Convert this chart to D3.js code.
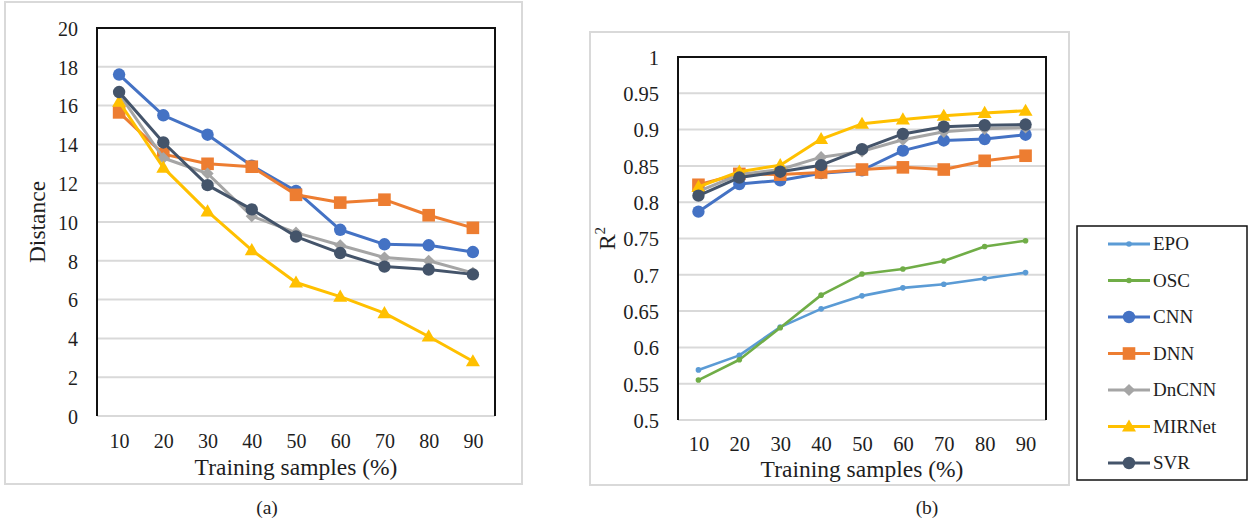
<!DOCTYPE html>
<html>
<head>
<meta charset="utf-8">
<script src="https://cdn.jsdelivr.net/npm/d3@7"></script>
<style>
  html, body { margin: 0; padding: 0; background: #fff; }
  svg { display: block; font-family: "Liberation Serif", "Times New Roman", serif; }
</style>
</head>
<body>
<svg id="chart" width="1251" height="524"></svg>
<script>
// Training sample percentages shared by both panels
const samples = [10, 20, 30, 40, 50, 60, 70, 80, 90];

// Panel (a): distance per method
const distCNN    = [17.6, 15.5, 14.5, 12.9, 11.6, 9.6, 8.85, 8.8, 8.45];
const distDNN    = [15.65, 13.5, 13.0, 12.85, 11.4, 11.0, 11.15, 10.35, 9.7];
const distDnCNN  = [16.6, 13.3, 12.5, 10.3, 9.45, 8.8, 8.17, 8.0, 7.38];
const distMIRNet = [16.2, 12.8, 10.55, 8.55, 6.88, 6.15, 5.3, 4.1, 2.82];
const distSVR    = [16.7, 14.1, 11.9, 10.65, 9.25, 8.4, 7.7, 7.55, 7.3];

// Panel (b): R² per method
const r2EPO    = [0.569, 0.589, 0.628, 0.653, 0.671, 0.682, 0.687, 0.695, 0.703];
const r2OSC    = [0.555, 0.583, 0.627, 0.672, 0.701, 0.708, 0.719, 0.739, 0.747];
const r2CNN    = [0.787, 0.825, 0.830, 0.840, 0.844, 0.871, 0.885, 0.887, 0.893];
const r2DNN    = [0.824, 0.839, 0.838, 0.841, 0.845, 0.848, 0.845, 0.857, 0.864];
const r2DnCNN  = [0.815, 0.838, 0.845, 0.862, 0.870, 0.886, 0.897, 0.901, 0.903];
const r2MIRNet = [0.821, 0.842, 0.851, 0.887, 0.908, 0.914, 0.919, 0.923, 0.926];
const r2SVR    = [0.809, 0.834, 0.842, 0.851, 0.873, 0.894, 0.904, 0.906, 0.907];

// Axis ticks
const distTicks = [0, 2, 4, 6, 8, 10, 12, 14, 16, 18, 20];
const r2Ticks = [0.5, 0.55, 0.6, 0.65, 0.7, 0.75, 0.8, 0.85, 0.9, 0.95, 1];

// Method names, legend order
const methods = ["EPO", "OSC", "CNN", "DNN", "DnCNN", "MIRNet", "SVR"];

const colors = {
  EPO: "#5b9bd5", OSC: "#70ad47", CNN: "#4472c4", DNN: "#ed7d31",
  DnCNN: "#a5a5a5", MIRNet: "#ffc000", SVR: "#44546a"
};
const markers = {
  EPO: "smallCircle", OSC: "smallCircle", CNN: "circle", DNN: "square",
  DnCNN: "diamond", MIRNet: "triangle", SVR: "circle"
};

const seriesA = [
  { name: "CNN", values: distCNN },
  { name: "DNN", values: distDNN },
  { name: "DnCNN", values: distDnCNN },
  { name: "MIRNet", values: distMIRNet },
  { name: "SVR", values: distSVR }
];
const seriesB = [
  { name: "EPO", values: r2EPO },
  { name: "OSC", values: r2OSC },
  { name: "CNN", values: r2CNN },
  { name: "DNN", values: r2DNN },
  { name: "DnCNN", values: r2DnCNN },
  { name: "MIRNet", values: r2MIRNet },
  { name: "SVR", values: r2SVR }
];

const svg = d3.select("#chart");
const gridColor = "#d9d9d9";
const textColor = "#1e1e1e";

function drawMarker(g, type, x, y, color) {
  if (type === "circle") {
    g.append("circle").attr("cx", x).attr("cy", y).attr("r", 6.2).attr("fill", color);
  } else if (type === "smallCircle") {
    g.append("circle").attr("cx", x).attr("cy", y).attr("r", 2.8).attr("fill", color);
  } else if (type === "square") {
    g.append("rect").attr("x", x - 6.3).attr("y", y - 6.3).attr("width", 12.6).attr("height", 12.6).attr("fill", color);
  } else if (type === "diamond") {
    g.append("path").attr("d", d3.symbol(d3.symbolDiamond2, 95)()).attr("transform", `translate(${x},${y})`).attr("fill", color);
  } else if (type === "triangle") {
    g.append("path").attr("d", d3.symbol(d3.symbolTriangle, 85)()).attr("transform", `translate(${x},${y + 1})`).attr("fill", color);
  }
}

function drawPanel(opt) {
  const { frame, plot, domain, ticks, series, yTitle, tickFont, tickBaseline, titleBaseline, caption } = opt;
  const g = svg.append("g");

  // panel frame
  g.append("rect")
    .attr("x", frame.x).attr("y", frame.y).attr("width", frame.w).attr("height", frame.h)
    .attr("fill", "none").attr("stroke", gridColor).attr("stroke-width", 2);

  const x = d3.scalePoint().domain(samples).range([plot.left, plot.right]).padding(0.5);
  const y = d3.scaleLinear().domain(domain).range([plot.bottom, plot.top]);

  // horizontal gridlines
  g.append("g").selectAll("line").data(ticks).join("line")
    .attr("x1", plot.left).attr("x2", plot.right)
    .attr("y1", d => y(d)).attr("y2", d => y(d))
    .attr("stroke", gridColor).attr("stroke-width", 2);

  // plot border: top, left, right
  g.append("path")
    .attr("d", `M${plot.left},${plot.bottom}V${plot.top}H${plot.right}V${plot.bottom}`)
    .attr("fill", "none").attr("stroke", "#111").attr("stroke-width", 2);

  // y tick labels
  const yAxis = d3.axisLeft(y).tickValues(ticks).tickSize(0).tickPadding(0).tickFormat(d => String(d));
  const ya = g.append("g").attr("transform", `translate(${plot.left - 19},0)`).call(yAxis);
  ya.select(".domain").remove();
  ya.selectAll("text").attr("font-size", tickFont).attr("fill", textColor)
    .attr("font-family", "Liberation Serif").attr("dy", "0.36em");

  // x tick labels
  const xAxis = d3.axisBottom(x).tickSize(0).tickPadding(0);
  const xa = g.append("g").attr("transform", `translate(0,${tickBaseline})`).call(xAxis);
  xa.select(".domain").remove();
  xa.selectAll("text").attr("font-size", tickFont).attr("fill", textColor)
    .attr("font-family", "Liberation Serif").attr("dy", 0).attr("y", 0);

  // x title
  g.append("text")
    .attr("x", (plot.left + plot.right) / 2).attr("y", titleBaseline)
    .attr("text-anchor", "middle").attr("font-size", 23.5).attr("fill", textColor)
    .text("Training samples (%)");

  // y title
  const yt = g.append("text")
    .attr("transform", `translate(${yTitle.x},${(plot.top + plot.bottom) / 2}) rotate(-90)`)
    .attr("text-anchor", "middle").attr("font-size", 23.5).attr("fill", textColor);
  if (yTitle.sup) {
    yt.append("tspan").text(yTitle.text);
    yt.append("tspan").attr("font-size", 15).attr("dy", -10).text(yTitle.sup);
  } else {
    yt.text(yTitle.text);
  }

  // series
  const line = d3.line().x((d, i) => x(samples[i])).y(d => y(d));
  series.forEach(s => {
    const sg = g.append("g");
    const thin = markers[s.name] === "smallCircle";
    sg.append("path").attr("d", line(s.values)).attr("fill", "none")
      .attr("stroke", colors[s.name]).attr("stroke-width", thin ? 2.6 : 3)
      .attr("stroke-linejoin", "round");
    s.values.forEach((v, i) => drawMarker(sg, markers[s.name], x(samples[i]), y(v), colors[s.name]));
  });

  // caption
  svg.append("text").attr("x", caption.x).attr("y", 514).attr("text-anchor", "middle")
    .attr("font-size", 19.5).attr("fill", textColor).text(caption.text);
}

drawPanel({
  frame: { x: 5, y: 2, w: 517, h: 482 },
  plot: { left: 97, right: 495, top: 28, bottom: 416 },
  domain: [0, 20], ticks: distTicks, series: seriesA,
  yTitle: { x: 45, text: "Distance" },
  tickFont: 20, tickBaseline: 448, titleBaseline: 475,
  caption: { x: 267, text: "(a)" }
});

drawPanel({
  frame: { x: 590, y: 32, w: 479, h: 453 },
  plot: { left: 678, right: 1046, top: 57, bottom: 420 },
  domain: [0.5, 1], ticks: r2Ticks, series: seriesB,
  yTitle: { x: 615, text: "R", sup: "2" },
  tickFont: 20.5, tickBaseline: 451, titleBaseline: 477,
  caption: { x: 927, text: "(b)" }
});

// legend
const legend = svg.append("g");
legend.append("rect").attr("x", 1077).attr("y", 226).attr("width", 170).attr("height", 254)
  .attr("fill", "#fff").attr("stroke", "#111").attr("stroke-width", 1.5);
const ly = d3.scalePoint().domain(methods).range([244, 463]);
methods.forEach(m => {
  const yy = ly(m);
  const lg = legend.append("g");
  lg.append("line").attr("x1", 1108).attr("x2", 1150).attr("y1", yy).attr("y2", yy)
    .attr("stroke", colors[m]).attr("stroke-width", 3);
  drawMarker(lg, markers[m], 1129, yy, colors[m]);
  lg.append("text").attr("x", 1153).attr("y", yy).attr("dy", "0.34em")
    .attr("font-size", 19).attr("fill", textColor).text(m);
});
</script>
</body>
</html>
